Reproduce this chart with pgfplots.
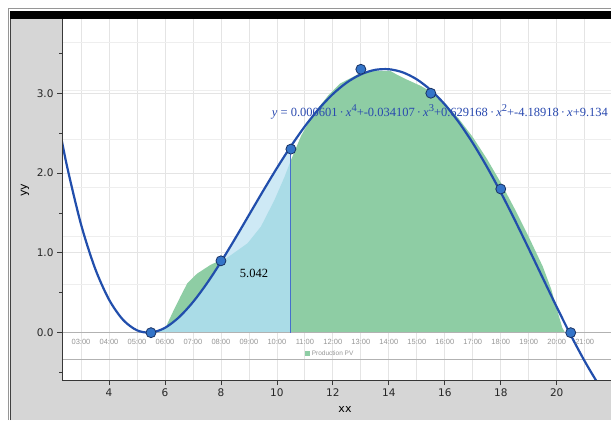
\documentclass[border=0pt]{standalone}
\usepackage{fontspec}
\setmainfont{DejaVu Sans}
\newfontfamily\seriffont{Liberation Serif}
\newfontfamily\smallsans{Liberation Sans}
\usepackage{pgfplots}
\pgfplotsset{compat=1.18}
\definecolor{panelgray}{RGB}{214,214,214}
\definecolor{framegray}{RGB}{150,150,150}
\definecolor{axisgray}{RGB}{55,55,55}
\definecolor{gridc}{RGB}{228,228,228}
\definecolor{bggrid}{RGB}{238,238,238}
\definecolor{pvgreen}{RGB}{142,205,164}
\definecolor{paleblue}{RGB}{206,233,245}
\definecolor{tealblue}{RGB}{170,220,231}
\definecolor{curveblue}{RGB}{33,78,172}
\definecolor{ptblue}{RGB}{52,116,200}
\definecolor{ptdark}{RGB}{25,50,100}
\definecolor{eqblue}{RGB}{40,72,175}
\definecolor{hourgray}{RGB}{150,150,150}
\definecolor{intline}{RGB}{70,110,205}
\newcommand{\eqsup}[1]{\raisebox{0.42em}{\fontsize{10.5bp}{11bp}\selectfont #1}}
\begin{document}
\begin{tikzpicture}[x=1bp,y=1bp]
\path[use as bounding box] (0,0) rectangle (611,420);
\fill[white] (0,0) rectangle (611,420);
\fill[panelgray] (10,0) rectangle (611,401);
\draw[framegray, line width=1bp] (8.5,0) -- (8.5,411) -- (611,411);
\draw[black!75, line width=1bp] (10.5,0) -- (10.5,401);
\fill[black] (10,401) rectangle (611,409);
\begin{axis}[
  at={(62bp,40bp)}, anchor=south west, scale only axis,
  width=549bp, height=361bp,
  xmin=2.32, xmax=21.94, ymin=-0.593, ymax=3.93,
  axis background/.style={fill=white},
  axis x line*=bottom, axis y line*=left,
  axis line style={draw=axisgray, line width=0.9bp},
  xtick={4,6,...,20}, xticklabels={4,6,8,10,12,14,16,18,20},
  ytick={0,1,2,3}, yticklabels={0.0,1.0,2.0,3.0},
  minor ytick={-0.5,0.5,1.5,2.5,3.5},
  tick align=outside, major tick length=5bp, minor tick length=3bp,
  tick style={axisgray, line width=0.8bp},
  ticklabel style={font=\fontsize{10.5bp}{12bp}\selectfont, text=black!85},
  axis on top,
  clip=true,
]
% background chart grid
\pgfplotsinvokeforeach{3,...,21}{\addplot[gridc, line width=0.8bp, forget plot] coordinates {(#1,-0.593) (#1,3.93)};}
\pgfplotsinvokeforeach{0.606,1.212,1.818,2.424,3.03,3.636}{\addplot[bggrid, line width=0.8bp, forget plot] coordinates {(2.32,#1) (21.94,#1)};}
\pgfplotsinvokeforeach{1,2,3}{\addplot[gridc, line width=0.8bp, forget plot] coordinates {(2.32,#1) (21.94,#1)};}
\addplot[black!30, line width=0.8bp] coordinates {(2.32,-0.337) (21.94,-0.337)};
% PV production area
\addplot[fill=pvgreen, draw=none] coordinates {
(6.0,0) (6.07,0.1) (6.31,0.28) (6.55,0.45) (6.8,0.62) (7.15,0.74) (7.63,0.85)
(8.0,0.91) (8.35,0.97) (8.95,1.12) (9.43,1.33) (9.91,1.66) (10.27,1.95) (10.5,2.16)
(10.87,2.47) (11.35,2.76) (11.83,2.97) (12.25,3.12) (12.97,3.25) (13.5,3.28) (14.05,3.28)
(14.3,3.23) (14.65,3.17) (15.15,3.09) (15.5,3.02) (16,2.88) (16.5,2.68) (17,2.45)
(17.5,2.18) (18,1.88) (18.5,1.55) (19,1.2) (19.5,0.83) (19.8,0.55) (20.0,0.3)
(20.2,0.06) (20.3,0)} -- cycle;
% integral region (5.5 to 10.5)
\addplot[fill=paleblue, draw=none, smooth] coordinates {
(5.5,0.0012) (6,0.0608) (6.5,0.1929) (7,0.3833) (7.5,0.6186) (8,0.8862)
(8.5,1.1747) (9,1.4731) (9.5,1.7719) (10,2.0620) (10.5,2.3355)} \closedcycle;
\addplot[fill=tealblue, draw=none] coordinates {
(5.5,0.0012) (6,0.0608) (6.5,0.1929) (7,0.3833) (7.5,0.6186) (8,0.8862)
(8.35,0.97) (8.95,1.12) (9.43,1.33) (9.91,1.66) (10.27,1.95) (10.5,2.16)} \closedcycle;
\addplot[black!30, line width=0.8bp] coordinates {(2.32,0) (21.94,0)};
\addplot[intline, line width=1bp] coordinates {(10.5,0) (10.5,2.3355)};
% fitted polynomial
\addplot[curveblue, line width=2.2bp, smooth] coordinates {
(2.2,2.6139) (2.5,2.0839) (3,1.3568) (3.5,0.8070) (4,0.4150) (4.5,0.1618)
(5,0.0296) (5.5,0.0012) (6,0.0608) (6.5,0.1929) (7,0.3833) (7.5,0.6186)
(8,0.8862) (8.5,1.1747) (9,1.4731) (9.5,1.7719) (10,2.0620) (10.5,2.3355)
(11,2.5852) (11.5,2.8049) (12,2.9895) (12.5,3.1344) (13,3.2361) (13.5,3.2922)
(14,3.3008) (14.5,3.2612) (15,3.1736) (15.5,3.0389) (16,2.8590) (16.5,2.6368)
(17,2.3759) (17.5,2.0811) (18,1.7577) (18.5,1.4123) (19,1.0522) (19.5,0.6856)
(20,0.3216) (20.5,-0.0298) (21,-0.3575) (21.5,-0.6499) (22,-0.894)};
% data points
\addplot[only marks, mark=*, mark size=5bp, mark options={fill=ptblue, draw=ptdark, line width=0.8bp}]
coordinates {(5.5,0) (8,0.9) (10.5,2.3) (13,3.3) (15.5,3.0) (18,1.8) (20.5,0)};
% hour labels of background chart
\pgfplotsinvokeforeach{3,...,9}{\node[hourgray, font=\smallsans\fontsize{7.5bp}{8bp}\selectfont] at (axis cs:#1,-0.117) {0#1:00};}
\pgfplotsinvokeforeach{10,...,21}{\node[hourgray, font=\smallsans\fontsize{7.5bp}{8bp}\selectfont] at (axis cs:#1,-0.117) {#1:00};}
\node[fill=pvgreen, minimum width=5bp, minimum height=4.5bp, inner sep=0pt] at (axis cs:11.11,-0.26) {};
\node[anchor=west, hourgray, font=\smallsans\fontsize{6.5bp}{7bp}\selectfont, inner sep=0pt] at (axis cs:11.24,-0.26) {Production PV};
% labels
\node[font=\seriffont\fontsize{12.5bp}{14bp}\selectfont] at (axis cs:9.18,0.745) {5.042};
\node[anchor=base west, inner sep=0pt, text=eqblue, font=\seriffont\fontsize{12.5bp}{14bp}\selectfont] at (axis cs:9.815,2.707)
 {\textit{y} = 0.000601\,·\,\textit{x}\eqsup{4}+-0.034107\,·\,\textit{x}\eqsup{3}+0.629168\,·\,\textit{x}\eqsup{2}+-4.18918\,·\,\textit{x}+9.134};
\end{axis}
\node[rotate=90, font=\fontsize{11bp}{12bp}\selectfont] at (25,230) {yy};
\node[font=\fontsize{11bp}{12bp}\selectfont] at (345,11) {xx};
\end{tikzpicture}
\end{document}
